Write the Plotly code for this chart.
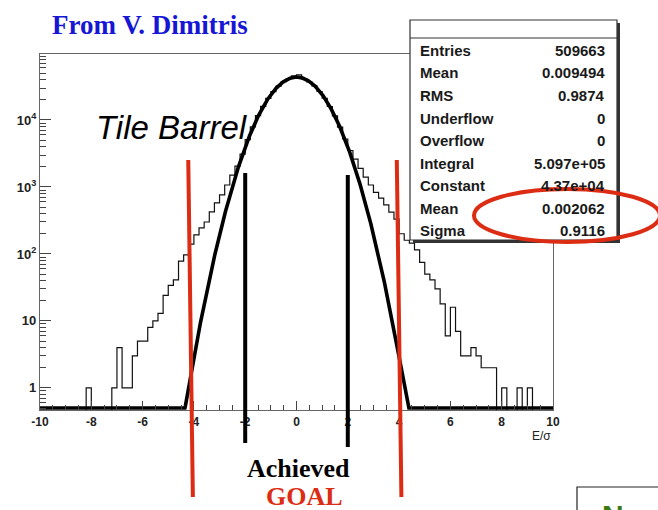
import numpy as np
import plotly.graph_objects as go

# ---------------- data ----------------
bin_low, bin_high, n_bins = -10.0, 10.0, 100          # E/sigma histogram binning
counts = [0, 0, 0, 0, 0, 0, 0, 0, 0, 1,
          0, 0, 0, 0, 1, 4, 1, 1, 3, 5,
          5, 8, 10, 13, 24, 34, 41, 78, 97, 140,
          193, 245, 300, 425, 580, 760, 1070, 1500, 2050, 3100,
          5100, 7900, 11600, 16000, 21000, 26500, 32100, 37200, 41300, 45500,
          47000, 41200, 37100, 32200, 26600, 21100, 15900, 11500, 7800, 5200,
          3500, 2600, 1900, 1400, 1070, 830, 680, 540, 420, 330,
          200, 160, 145, 115, 75, 50, 41, 30, 18, 6,
          16, 7, 3, 3, 4, 3, 2, 2, 2, 0,
          1, 0, 0, 1, 0, 1, 0, 0, 0, 0]

fit_constant = 4.37e4
fit_mean = 0.002062
fit_sigma = 0.9116

stat_labels = ["Entries", "Mean", "RMS", "Underflow", "Overflow",
               "Integral", "Constant", "Mean", "Sigma"]
stat_values = ["509663", "0.009494", "0.9874", "0", "0",
               "5.097e+05", "4.37e+04", "0.002062", "0.9116"]

x_tick_vals = [-10, -8, -6, -4, -2, 0, 2, 4, 6, 8, 10]
y_tick_vals = [1, 10, 100, 1000, 10000]
y_tick_text = ["1", "10", "10<sup>2</sup>", "10<sup>3</sup>", "10<sup>4</sup>"]

achieved_limits = [-2.0, 2.0]     # black lines
goal_limits = [-4.13, 4.0]        # red (hand drawn) lines

# ---------------- geometry / styles ----------------
W, H = 658, 510
L, R, T, B = 40, 553, 54, 410
y_range = [-0.33, 4.985]
RED = "#dc2d14"
BLUE = "#1616d4"
SANS = "Liberation Sans, Arial, sans-serif"
SERIF = "Liberation Serif, Times New Roman, serif"


def px(xp):
    return (xp - L) / (R - L)


def py(yp):
    return (B - yp) / (B - T)


edges = np.linspace(bin_low, bin_high, n_bins + 1)
cnt = np.array(counts, dtype=float)
floor_val = 0.1                      # zero bins drop below the frame
hist_y = np.where(cnt > 0, cnt, floor_val)
hist_y = np.append(hist_y, hist_y[-1])

xf = np.linspace(bin_low, bin_high, 1201)
gf = fit_constant * np.exp(-0.5 * ((xf - fit_mean) / fit_sigma) ** 2)
gf = np.maximum(gf, 10 ** (y_range[0] + 0.03))

fig = go.Figure()
fig.add_trace(go.Scatter(x=edges, y=hist_y, mode="lines", line_shape="hv",
                         line=dict(color="#111111", width=1.2),
                         showlegend=False, hoverinfo="skip"))
fig.add_trace(go.Scatter(x=xf, y=gf, mode="lines",
                         line=dict(color="black", width=3.6),
                         showlegend=False, hoverinfo="skip"))

x_minor = [v for v in np.arange(-9.5, 10.0, 0.5) if abs(v / 2 - round(v / 2)) > 1e-6]
y_minor = [m * 10.0 ** d for d in range(-1, 5) for m in range(2, 10)
           if y_range[0] < np.log10(m * 10.0 ** d) < y_range[1]]

fig.update_layout(
    width=W, height=H, autosize=False,
    margin=dict(l=L, r=W - R, t=T, b=H - B, pad=0),
    paper_bgcolor="white", plot_bgcolor="white",
    xaxis=dict(range=[bin_low, bin_high], showgrid=False, zeroline=False,
               showline=True, mirror=True, linecolor="#666666", linewidth=1.2,
               ticks="inside", ticklen=9, tickcolor="#444444", tickwidth=1.2,
               tickvals=x_tick_vals, ticktext=[f"<b>{v}</b>" for v in x_tick_vals],
               tickfont=dict(family=SANS, size=12, color="#222222"),
               minor=dict(tickvals=x_minor, ticks="inside", ticklen=5,
                          tickcolor="#444444", tickwidth=1.1),
               automargin=False),
    yaxis=dict(type="log", range=y_range, showgrid=False, zeroline=False,
               showline=True, mirror=True, linecolor="#666666", linewidth=1.2,
               ticks="inside", ticklen=11, tickcolor="#444444", tickwidth=1.2,
               tickvals=y_tick_vals, ticktext=[f"<b>{t}</b>" for t in y_tick_text],
               tickfont=dict(family=SANS, size=13, color="#222222"),
               minor=dict(tickvals=y_minor, ticks="inside", ticklen=6,
                          tickcolor="#444444", tickwidth=1.1),
               automargin=False),
)

shapes = []
# achieved (black) and goal (red) vertical marker lines
for xv, (y0, y1) in zip(achieved_limits, [(173, 443), (175, 447)]):
    shapes.append(dict(type="line", xref="x", yref="paper", x0=xv, x1=xv,
                       y0=py(y0), y1=py(y1), line=dict(color="black", width=4)))
slant = 0.09
for xv, (y0, y1) in zip(goal_limits, [(160, 497), (160, 497)]):
    shapes.append(dict(type="line", xref="x", yref="paper", x0=xv - slant, x1=xv + slant,
                       y0=py(y0), y1=py(y1), line=dict(color=RED, width=4)))

# statistics box with shadow
bx0, bx1, by0, by1 = 410, 617, 20, 240
shapes.append(dict(type="rect", xref="paper", yref="paper", layer="above",
                   x0=px(bx0 + 3), x1=px(bx1 + 3), y0=py(by0 + 3), y1=py(by1 + 3),
                   fillcolor="#333333", line=dict(width=0)))
shapes.append(dict(type="rect", xref="paper", yref="paper", layer="above",
                   x0=px(bx0), x1=px(bx1), y0=py(by0), y1=py(by1),
                   fillcolor="white", line=dict(color="#333333", width=1.2)))
shapes.append(dict(type="line", xref="paper", yref="paper", layer="above",
                   x0=px(bx0), x1=px(bx1), y0=py(38), y1=py(38),
                   line=dict(color="#333333", width=1.2)))
# bottom-right box of the slide
shapes.append(dict(type="rect", xref="paper", yref="paper", layer="above",
                   x0=px(577), x1=px(700), y0=py(487), y1=py(540),
                   fillcolor="white", line=dict(color="#222222", width=1.2)))

annotations = []
row_y = [50.5, 72.8, 95.5, 118.2, 140.8, 163, 185.5, 208.3, 230.5]
for lab, val, yy in zip(stat_labels, stat_values, row_y):
    annotations.append(dict(xref="paper", yref="paper", x=px(418), y=py(yy),
                            text=f"<b>{lab}</b>", showarrow=False, xanchor="left",
                            yanchor="middle", font=dict(family=SANS, size=15, color="#1a1a1a")))
    annotations.append(dict(xref="paper", yref="paper", x=px(607), y=py(yy),
                            text=f"<b>{val}</b>", showarrow=False, xanchor="right",
                            yanchor="middle", font=dict(family=SANS, size=15, color="#1a1a1a")))

annotations += [
    dict(xref="paper", yref="paper", x=px(150), y=py(25), text="<b>From V. Dimitris</b>",
         showarrow=False, xanchor="center", yanchor="middle",
         font=dict(family=SERIF, size=27, color=BLUE)),
    dict(xref="paper", yref="paper", x=px(94), y=py(127), text="<i>Tile Barrel</i>",
         showarrow=False, xanchor="left", yanchor="middle",
         font=dict(family=SANS, size=33, color="black")),
    dict(xref="paper", yref="paper", x=px(298), y=py(468), text="<b>Achieved</b>",
         showarrow=False, xanchor="center", yanchor="middle",
         font=dict(family=SERIF, size=26, color="black")),
    dict(xref="paper", yref="paper", x=px(304), y=py(496), text="<b>GOAL</b>",
         showarrow=False, xanchor="center", yanchor="middle",
         font=dict(family=SERIF, size=26, color=RED)),
    dict(xref="paper", yref="paper", x=px(553), y=py(436), text="E/σ",
         showarrow=False, xanchor="right", yanchor="middle",
         font=dict(family=SANS, size=12, color="#222222")),
    dict(xref="paper", yref="paper", x=px(600), y=py(515), text="<b>N</b>",
         showarrow=False, xanchor="left", yanchor="middle",
         font=dict(family=SANS, size=30, color="#3a7a10")),
]

# white patch hiding the lower part of the Constant value, then the red ellipse
shapes.append(dict(type="rect", xref="paper", yref="paper", layer="above",
                   x0=px(478), x1=px(612), y0=py(187.5), y1=py(196),
                   fillcolor="white", line=dict(width=0)))
shapes.append(dict(type="circle", xref="paper", yref="paper", layer="above",
                   x0=px(474), x1=px(660), y0=py(189), y1=py(242),
                   line=dict(color=RED, width=4)))

fig.update_layout(shapes=shapes, annotations=annotations)
fig.write_html("out.html")
